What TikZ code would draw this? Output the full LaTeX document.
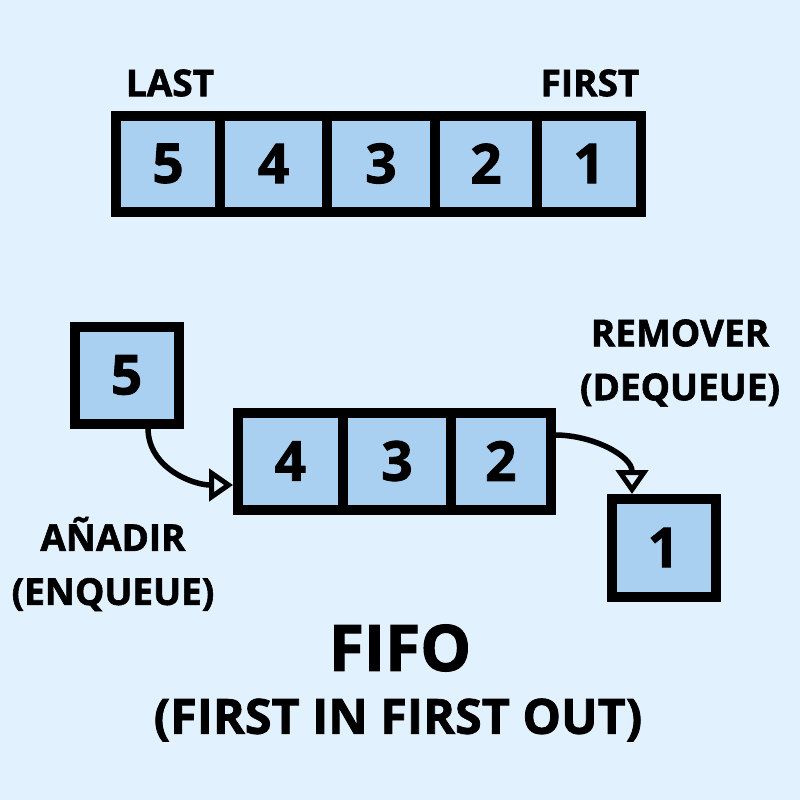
\documentclass[tikz,border=0pt]{standalone}
\usepackage{fontspec}
\setmainfont{Open Sans}[BoldFeatures={FakeBold=1.6}]
\usetikzlibrary{arrows.meta}
\definecolor{bg}{HTML}{E1F1FE}
\definecolor{cell}{HTML}{A9D0F0}
\tikzset{
  cellbox/.style={draw=black, line width=10pt, fill=cell, rectangle, inner sep=0pt,
    font=\fontsize{55}{55}\selectfont\bfseries},
  lbl/.style={font=\fontsize{37}{54}\selectfont\bfseries, align=center, inner sep=0pt},
  flow/.style={line width=5.5pt, -{Triangle[open, length=24pt, width=32pt, line width=5pt]}}
}
\begin{document}
\begin{tikzpicture}[x=1pt,y=-1pt]
\fill[bg] (0,0) rectangle (800,800);
\useasboundingbox (0,0) rectangle (800,800);
% top row
\node[cellbox, minimum width=104pt, minimum height=96pt] (t5) at (168,163.5) {5};
\node[cellbox, minimum width=107pt, minimum height=96pt] (t4) at (273.5,163.5) {4};
\node[cellbox, minimum width=108pt, minimum height=96pt] (t3) at (381,163.5) {3};
\node[cellbox, minimum width=102pt, minimum height=96pt] (t2) at (486,163.5) {2};
\node[cellbox, minimum width=104pt, minimum height=96pt] (t1) at (589,163.5) {1};
\node[lbl] (last) at (170,83) {LAST};
\node[lbl] (first) at (590,83) {FIRST};
% bottom
\node[cellbox, minimum width=104pt, minimum height=97pt] (b5) at (126.5,375) {5};
\node[cellbox, minimum width=105.5pt, minimum height=97pt] (b4) at (290.25,461) {4};
\node[cellbox, minimum width=108pt, minimum height=97pt] (b3) at (397,461) {3};
\node[cellbox, minimum width=99.5pt, minimum height=97pt] (b2) at (500.75,461) {2};
\node[cellbox, minimum width=104pt, minimum height=98pt] (b1) at (663.5,547.5) {1};
\coordinate (s1) at (148,428);
\coordinate (e1) at (233,485);
\coordinate (s2) at (555,435);
\coordinate (e2) at (632,494);
\draw[flow] (s1) to[out=-90, in=180] (e1);
\draw[flow] (s2) to[out=0, in=90] (e2);
\node[lbl] (rem) at (680,363) {REMOVER\\(DEQUEUE)};
\node[lbl] (add) at (113,564) {AÑADIR\\(ENQUEUE)};
\node[font=\fontsize{64}{64}\selectfont\bfseries, inner sep=0pt] (fifo) at (400,648) {FIFO};
\node[font=\fontsize{48.5}{48}\selectfont\bfseries, inner sep=0pt] (full) at (398,720) {(FIRST IN FIRST OUT)};
\end{tikzpicture}
\end{document}
